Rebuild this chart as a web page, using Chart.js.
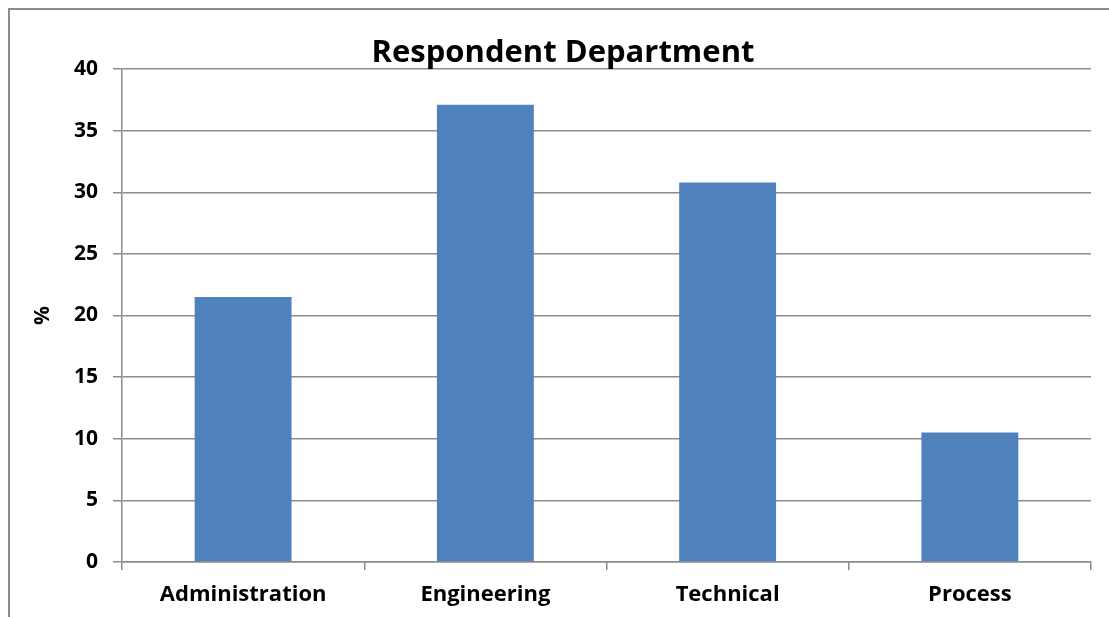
<!DOCTYPE html>
<html>
<head>
<meta charset="utf-8">
<script src="https://cdn.jsdelivr.net/npm/chart.js@4.4.1/dist/chart.umd.min.js"></script>
<style>
  html, body { margin: 0; padding: 0; background: #fff; overflow: hidden; width: 1109px; height: 617px; }
  #frame { position: absolute; left: 8px; top: 8px; width: 1106px; height: 620px; border: 2px solid #8c8c8c; background: #fff; }
  #wrap { position: absolute; left: 0; top: 0; width: 1106px; height: 610px; }
</style>
</head>
<body>
<div id="frame"><div id="wrap"><canvas id="chart"></canvas></div></div>
<script>
// Respondent share by department (%)
const departments = ['Administration', 'Engineering', 'Technical', 'Process'];
const percentages = [21.5, 37.1, 30.8, 10.5];
const yTicks = [0, 5, 10, 15, 20, 25, 30, 35, 40];

const axisGray = '#8c8c8c';
const fontFamily = '"Open Sans", Lato, sans-serif';

// Center the title over the full canvas width, ignoring the right layout padding
const fullWidthTitle = {
  id: 'fullWidthTitle',
  afterLayout(chart) {
    const t = chart.titleBlock;
    if (t) { t.left = 0; t.right = chart.width; t.width = chart.width; }
  }
};

new Chart(document.getElementById('chart'), {
  type: 'bar',
  data: {
    labels: departments,
    datasets: [{
      data: percentages,
      backgroundColor: '#4F81BD',
      borderWidth: 0,
      categoryPercentage: 1.0,
      barPercentage: 0.4
    }]
  },
  options: {
    responsive: true,
    maintainAspectRatio: false,
    animation: false,
    layout: { padding: { left: 0, right: 25, top: 0, bottom: 0 } },
    plugins: {
      legend: { display: false },
      tooltip: { enabled: false },
      title: {
        display: true,
        text: 'Respondent Department',
        color: '#000',
        font: { family: fontFamily, size: 31, weight: 'bold', lineHeight: 32 / 31 },
        padding: { top: 27, bottom: 0 }
      }
    },
    scales: {
      x: {
        offset: true,
        grid: {
          display: true,
          drawOnChartArea: false,
          drawTicks: true,
          tickLength: 8,
          color: axisGray,
          lineWidth: 1.5,
          offset: true
        },
        border: { display: true, color: axisGray, width: 1.5 },
        ticks: {
          color: '#000',
          padding: 12,
          font: { family: fontFamily, size: 22, weight: 'bold' }
        },
        afterFit: (scale) => { scale.height = 58; }
      },
      y: {
        min: 0,
        max: 40,
        afterBuildTicks: (scale) => { scale.ticks = yTicks.map(v => ({ value: v })); },
        grid: {
          color: axisGray,
          lineWidth: 1.5,
          tickLength: 9,
          drawTicks: true
        },
        border: { display: true, color: axisGray, width: 1.5 },
        ticks: {
          color: '#000',
          padding: 15,
          font: { family: fontFamily, size: 21, weight: 'bold' }
        },
        title: {
          display: true,
          text: '%',
          color: '#000',
          font: { family: fontFamily, size: 21, weight: 'bold' },
          padding: { top: 20, bottom: 0 }
        },
        afterFit: (scale) => { scale.width = 112; }
      }
    }
  },
  plugins: [fullWidthTitle]
});
</script>
</body>
</html>
